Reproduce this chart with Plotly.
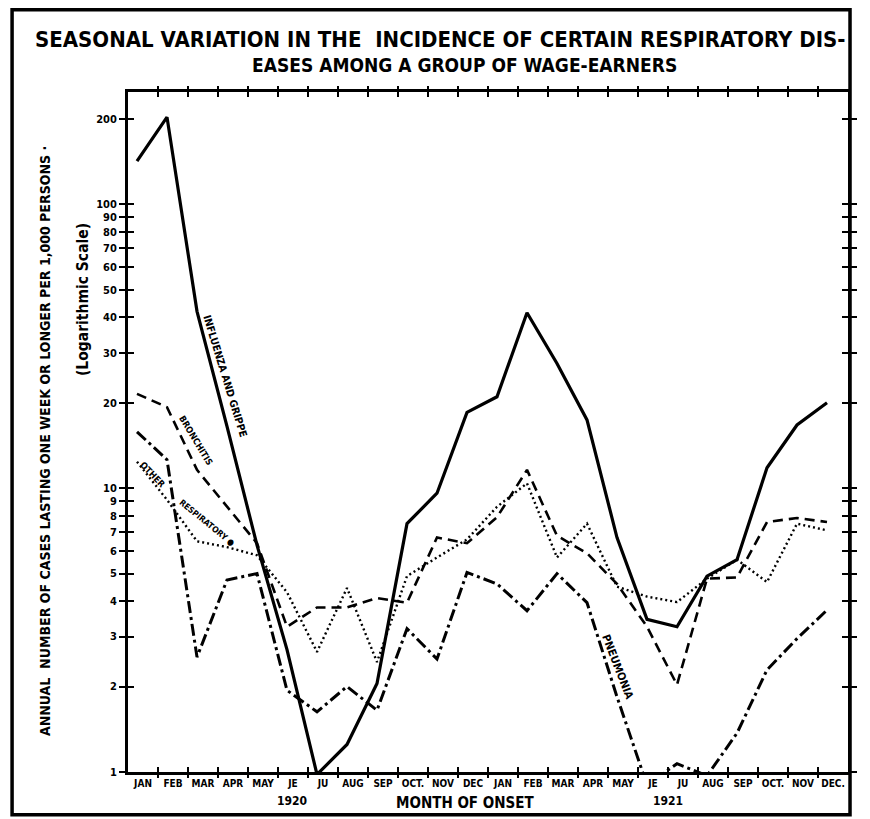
import plotly.graph_objects as go

# ---------------- data ----------------
MONTH_LABELS = ["JAN", "FEB", "MAR", "APR", "MAY", "JE", "JU", "AUG", "SEP", "OCT.", "NOV", "DEC",
                "JAN", "FEB", "MAR", "APR", "MAY", "JE", "JU", "AUG", "SEP", "OCT.", "NOV", "DEC."]
YEARS = ["1920", "1921"]

influenza = [142, 203, 42, 16.5, 6.3, 2.7, 0.98, 1.25, 2.05, 7.5, 9.6, 18.5,
             21, 41.5, 27.5, 17.4, 6.7, 3.45, 3.25, 4.9, 5.6, 11.8, 16.7, 20]
bronchitis = [21.5, 19.3, 11.6, 8.6, 6.4, 3.25, 3.8, 3.8, 4.1, 3.95, 6.7, 6.4,
              7.9, 11.6, 6.8, 5.9, 4.6, 3.25, 2.03, 4.8, 4.85, 7.6, 7.85, 7.6]
other_resp = [12.4, 9.1, 6.5, 6.2, 5.8, 4.3, 2.65, 4.45, 2.44, 4.9, 5.7, 6.6,
              8.6, 10.4, 5.7, 7.5, 4.5, 4.15, 3.97, 4.8, 5.6, 4.67, 7.5, 7.1]
pneumonia = [15.8, 12.6, 2.54, 4.75, 5.0, 1.94, 1.63, 2.0, 1.65, 3.2, 2.5, 5.05,
             4.6, 3.7, 5.0, 3.95, 1.84, 0.9, 1.07, 0.97, 1.37, 2.29, 2.95, 3.72]

Y_TICKS = [1, 2, 3, 4, 5, 6, 7, 8, 9, 10, 20, 30, 40, 50, 60, 70, 80, 90, 100, 200]

# ---------------- geometry helpers ----------------
N = len(MONTH_LABELS)
POINT_OFFSET = 0.3            # where within a month the points were drawn
X = [i + POINT_OFFSET for i in range(N)]
CENTERS = [i + 0.5 for i in range(N)]
BOUNDS = list(range(1, N))
Y_RANGE = [0, 2.396]

HAND = "Liberation Sans Narrow, DejaVu Sans Condensed, Liberation Sans, sans-serif"

fig = go.Figure()

series = [
    (influenza, dict(color="black", width=3.2)),
    (bronchitis, dict(color="black", width=2.6, dash="10px,6px")),
    (other_resp, dict(color="black", width=2.4, dash="2px,3px")),
    (pneumonia, dict(color="black", width=3, dash="12px,4px,3px,4px")),
]
for vals, ln in series:
    fig.add_trace(go.Scatter(x=X, y=vals, mode="lines", line=ln,
                             showlegend=False, hoverinfo="skip"))

# invisible traces to activate the tick-only overlay axes
for xa in ["x2", "x3"]:
    fig.add_trace(go.Scatter(x=X, y=influenza, xaxis=xa, yaxis="y2", mode="lines",
                             line=dict(width=0), showlegend=False, hoverinfo="skip"))

common_x = dict(range=[0, N], showgrid=False, zeroline=False)
fig.update_layout(
    width=862, height=811,
    paper_bgcolor="white", plot_bgcolor="white",
    margin=dict(l=120, r=22, t=84, b=47),
    font=dict(family=HAND, color="black"),
    xaxis=dict(**common_x, tickmode="array", tickvals=CENTERS, ticktext=MONTH_LABELS,
               ticks="", showline=True, linewidth=3, linecolor="black", mirror=True,
               tickfont=dict(size=10, family=HAND, weight=700), ticklabelstandoff=0),
    xaxis2=dict(**common_x, overlaying="x", anchor="y", tickmode="array", tickvals=BOUNDS,
                ticks="outside", ticklen=5, tickwidth=2, tickcolor="black",
                showticklabels=False, mirror="allticks", showline=False),
    xaxis3=dict(**common_x, overlaying="x", anchor="y", tickmode="array", tickvals=BOUNDS,
                ticks="inside", ticklen=5, tickwidth=2, tickcolor="black",
                showticklabels=False, mirror="allticks", showline=False),
    yaxis=dict(type="log", range=Y_RANGE, tickmode="array", tickvals=Y_TICKS,
               ticktext=[str(v) for v in Y_TICKS], ticks="outside", ticklen=6, tickwidth=2,
               tickcolor="black", showline=True, linewidth=3, linecolor="black",
               mirror="allticks", showgrid=False, zeroline=False,
               tickfont=dict(size=11, family=HAND, weight=700)),
    yaxis2=dict(type="log", range=Y_RANGE, overlaying="y", anchor="x", tickmode="array",
                tickvals=Y_TICKS, ticks="inside", ticklen=6, tickwidth=2, tickcolor="black",
                showticklabels=False, mirror="allticks", showgrid=False, zeroline=False,
                showline=False),
)

# outer frame (title box + chart box)
fig.add_shape(type="rect", xref="paper", yref="paper", x0=-0.161, x1=1.0028,
              y0=-0.063, y1=1.121, line=dict(color="black", width=3.5))

def ann(text, x, y, xref, yref, size, angle=0, weight=700):
    fig.add_annotation(text=text, x=x, y=y, xref=xref, yref=yref, showarrow=False,
                       xanchor="center", yanchor="middle", textangle=angle,
                       font=dict(size=size, family=HAND, weight=weight, color="black"))

# title
ann("SEASONAL VARIATION IN THE  INCIDENCE OF CERTAIN RESPIRATORY DIS-",
    0.434, 1.0765, "paper", "paper", 22)
ann("EASES AMONG A GROUP OF WAGE-EARNERS", 0.467, 1.0395, "paper", "paper", 19)

# axis titles
ann("ANNUAL  NUMBER OF CASES LASTING ONE WEEK OR LONGER PER 1,000 PERSONS ·",
    -0.115, 0.487, "paper", "paper", 14, angle=-90)
ann("(Logarithmic Scale)", -0.0625, 0.694, "paper", "paper", 15.5, angle=-90)
ann("MONTH OF ONSET", 0.468, -0.045, "paper", "paper", 15)
ann(YEARS[0], 5.47, -0.0425, "x", "paper", 12)
ann(YEARS[1], 18.0, -0.0425, "x", "paper", 12)

# series labels written along the lines
ann("INFLUENZA AND GRIPPE", 3.25, 1.395, "x", "y", 10.4, angle=73)
ann("BRONCHITIS", 2.25, 1.170, "x", "y", 9, angle=59)
ann("OTHER", 0.83, 1.047, "x", "y", 9, angle=46)
ann("RESPIRATORY ●", 2.65, 0.878, "x", "y", 8.5, angle=39)
ann("PNEUMONIA", 16.3, 0.370, "x", "y", 11, angle=69)

fig.write_html("out.html")
